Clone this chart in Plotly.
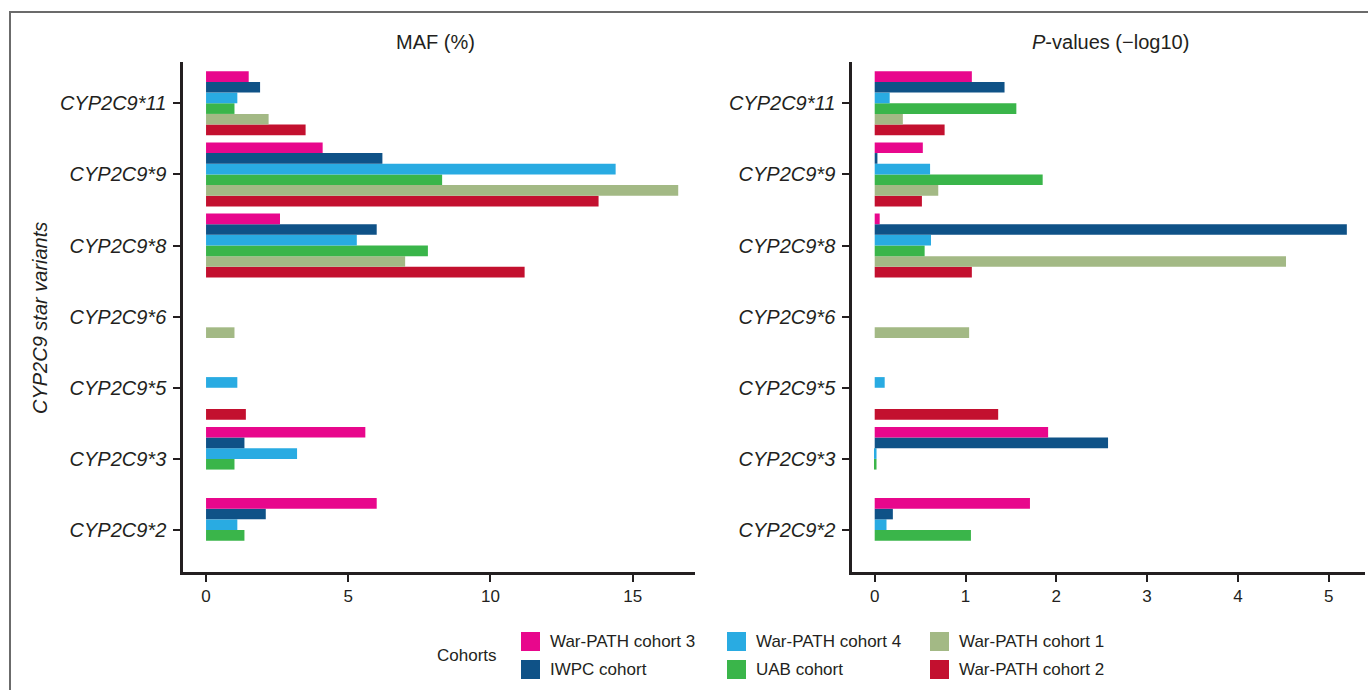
import plotly.graph_objects as go

# Star alleles, bottom to top
variants = ["CYP2C9*2", "CYP2C9*3", "CYP2C9*5", "CYP2C9*6", "CYP2C9*8", "CYP2C9*9", "CYP2C9*11"]

cohorts = ["War-PATH cohort 3", "IWPC cohort", "War-PATH cohort 4",
           "UAB cohort", "War-PATH cohort 1", "War-PATH cohort 2"]
colors = ["#E8078C", "#0F5287", "#29ABE2", "#3AB54A", "#A3B985", "#C3102F"]

# Minor allele frequency (%) per cohort, same order as variants
maf_cohort3 = [6.0, 5.6, None, None, 2.6, 4.1, 1.5]
maf_iwpc = [2.1, 1.35, None, None, 6.0, 6.2, 1.9]
maf_cohort4 = [1.1, 3.2, 1.1, None, 5.3, 14.4, 1.1]
maf_uab = [1.35, 1.0, None, None, 7.8, 8.3, 1.0]
maf_cohort1 = [None, None, None, 1.0, 7.0, 16.6, 2.2]
maf_cohort2 = [None, None, 1.4, None, 11.2, 13.8, 3.5]

# Association P-values (-log10) per cohort
p_cohort3 = [1.71, 1.91, None, None, 0.055, 0.53, 1.07]
p_iwpc = [0.20, 2.57, None, None, 5.20, 0.03, 1.43]
p_cohort4 = [0.13, 0.02, 0.11, None, 0.62, 0.61, 0.165]
p_uab = [1.06, 0.02, None, None, 0.55, 1.85, 1.56]
p_cohort1 = [None, None, None, 1.04, 4.53, 0.70, 0.31]
p_cohort2 = [None, None, 1.36, None, 1.07, 0.52, 0.77]

maf_series = [maf_cohort3, maf_iwpc, maf_cohort4, maf_uab, maf_cohort1, maf_cohort2]
p_series = [p_cohort3, p_iwpc, p_cohort4, p_uab, p_cohort1, p_cohort2]

maf_ticks = [0, 5, 10, 15]
p_ticks = [0, 1, 2, 3, 4, 5]

FONT = "Liberation Sans, Arial, sans-serif"
INK = "#231F20"

fig = go.Figure()

# Horizontal grouped bars: the last trace is drawn on top of each group,
# so add cohorts in reverse to keep War-PATH cohort 3 uppermost.
for i in reversed(range(len(cohorts))):
    fig.add_trace(go.Bar(y=variants, x=maf_series[i], orientation="h",
                         marker=dict(color=colors[i], line=dict(width=0)),
                         name=cohorts[i], showlegend=False,
                         xaxis="x", yaxis="y"))
    fig.add_trace(go.Bar(y=variants, x=p_series[i], orientation="h",
                         marker=dict(color=colors[i], line=dict(width=0)),
                         name=cohorts[i], showlegend=False,
                         xaxis="x2", yaxis="y2"))

W, H = 1368, 690
ML, MR, MT, MB = 183, 3, 62, 118
PW, PH = W - ML - MR, H - MT - MB


def px(x):
    return (x - ML) / PW


def py(y):
    return (H - MB - y) / PH


yaxis_common = dict(
    type="category", categoryorder="array", categoryarray=variants,
    range=[-0.59, 6.58], showline=True, linecolor=INK, linewidth=2.5,
    ticks="outside", ticklen=7, tickwidth=2, tickcolor=INK,
    tickfont=dict(family=FONT, size=20, color=INK, style="italic"),
    ticklabelstandoff=3, showgrid=False, zeroline=False,
)
xaxis_common = dict(
    showline=True, linecolor=INK, linewidth=2.5,
    ticks="outside", ticklen=7, tickwidth=2, tickcolor=INK,
    tickfont=dict(family=FONT, size=17, color=INK),
    showgrid=False, zeroline=False,
)

fig.update_layout(
    width=W, height=H,
    margin=dict(l=ML, r=MR, t=MT, b=MB),
    paper_bgcolor="white", plot_bgcolor="white",
    barmode="group", bargap=0.1, bargroupgap=0,
    showlegend=False,
    xaxis=dict(domain=[0, px(695)], range=[-0.81, 17.19],
               tickvals=maf_ticks, anchor="y", **xaxis_common),
    yaxis=dict(domain=[0, 1], anchor="x", **yaxis_common),
    xaxis2=dict(domain=[px(852), 1], range=[-0.25, 5.40],
                tickvals=p_ticks, anchor="y2", **xaxis_common),
    yaxis2=dict(domain=[0, 1], anchor="x2", **yaxis_common),
)

annotations = [
    dict(text="MAF (%)", x=px(435), y=py(42), xref="paper", yref="paper",
         showarrow=False, font=dict(family=FONT, size=20, color=INK),
         xanchor="center", yanchor="middle"),
    dict(text="<i>P</i>-values (\u2212log10)", x=px(1110), y=py(42),
         xref="paper", yref="paper", showarrow=False,
         font=dict(family=FONT, size=20, color=INK),
         xanchor="center", yanchor="middle"),
    dict(text="CYP2C9 star variants", x=px(40), y=py(318), xref="paper",
         yref="paper", showarrow=False, textangle=-90,
         font=dict(family="Liberation Sans Narrow, Liberation Sans, sans-serif",
                   size=20, color=INK, style="italic"),
         xanchor="center", yanchor="middle"),
    dict(text="Cohorts", x=px(499), y=py(655), xref="paper", yref="paper",
         showarrow=False, font=dict(family=FONT, size=17, color=INK),
         xanchor="right", yanchor="middle"),
]

shapes = [
    # outer frame
    dict(type="rect", xref="paper", yref="paper",
         x0=px(10), x1=1.05, y0=py(720), y1=py(12),
         line=dict(color="#6B6B6B", width=2), fillcolor="rgba(0,0,0,0)",
         layer="below"),
]

# Cohort key: 3 columns x 2 rows, filled column by column
col_x = [521, 727, 930]
row_y = [632, 660]
SW = 19
for i, (name, col) in enumerate(zip(cohorts, colors)):
    cx = col_x[i // 2]
    ry = row_y[i % 2]
    shapes.append(dict(type="rect", xref="paper", yref="paper",
                       x0=px(cx), x1=px(cx + SW), y0=py(ry + SW), y1=py(ry),
                       fillcolor=col, line=dict(width=0)))
    annotations.append(dict(text=name, x=px(cx + 27), y=py(ry + SW / 2),
                            xref="paper", yref="paper", showarrow=False,
                            font=dict(family=FONT, size=17, color=INK),
                            xanchor="left", yanchor="middle"))

fig.update_layout(annotations=annotations, shapes=shapes)

fig.write_html("out.html")
